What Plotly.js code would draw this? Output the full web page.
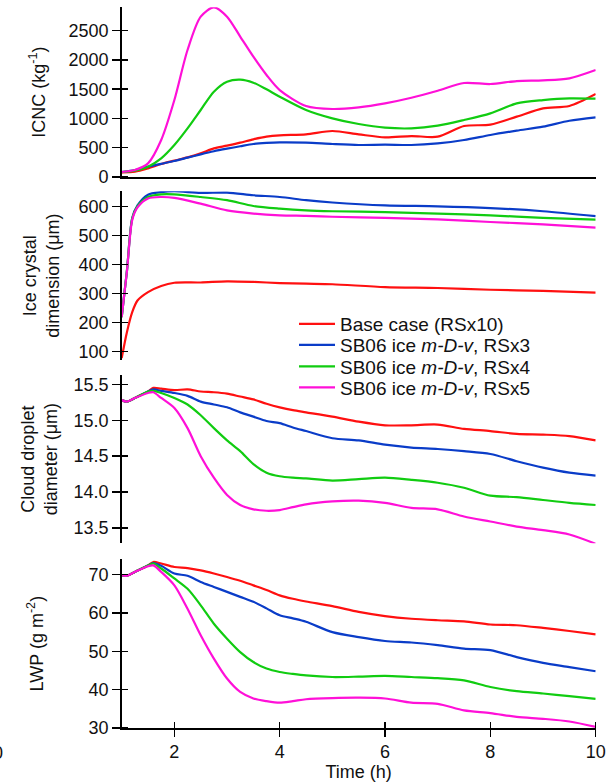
<!DOCTYPE html>
<html>
<head>
<meta charset="utf-8">
<script src="https://cdn.plot.ly/plotly-3.0.1.min.js"></script>
<style>html,body{margin:0;padding:0;background:#fff;}#chart{width:611px;height:783px;}</style>
</head>
<body>
<div id="chart"></div>
<script>
// ---------- data ----------
const seriesNames = ['Base case (RSx10)', 'SB06 ice <i>m-D-v</i>, RSx3', 'SB06 ice <i>m-D-v</i>, RSx4', 'SB06 ice <i>m-D-v</i>, RSx5'];
const seriesColors = ['#ff1010', '#0a3cc8', '#11cc11', '#ff10d8'];

// Panel 1: ICNC (kg^-1)
const timeIcnc = [1,1.25,1.5,1.75,2,2.25,2.5,2.75,3,3.25,3.5,3.75,4,4.5,5,5.5,6,6.5,7,7.5,8,8.5,9,9.5,10];
const icncBase = [80,91,148,222,280,336,404,490,535,587,644,689,712,729,786,729,678,700,689,871,894,1031,1173,1213,1418];
const icncRS3  = [85,120,177,225,273,330,387,440,484,525,564,582,592,587,564,547,552,547,575,632,718,792,860,962,1019];
const icncRS4  = [85,108,177,319,547,831,1145,1458,1629,1665,1612,1498,1372,1145,1002,905,843,831,877,974,1088,1259,1315,1344,1338];
const icncRS5  = [85,120,233,632,1315,2170,2740,2900,2740,2400,2056,1743,1486,1213,1162,1190,1259,1355,1475,1606,1589,1640,1652,1686,1828];

// Panel 2: ice crystal dimension (um)
const timeDim = [1,1.1,1.2,1.3,1.5,1.75,2,2.5,3,3.5,4,4.5,5,6,7,8,9,10];
const dimBase = [78,168,236,276,305,326,337,338,342,340,336,334,332,322,319,313,309,303];
const dimRS3  = [219,380,560,603,640,649,652,646,647,638,632,621,613,603,600,594,583,566];
const dimRS4  = [219,380,558,600,632,641,641,632,621,601,592,586,583,580,575,569,560,554];
const dimRS5  = [219,378,553,596,627,632,629,609,586,575,569,567,564,560,555,546,538,527];

// Panels 3 and 4 share a time grid
const timeCl = [1,1.1,1.25,1.5,1.6,1.75,2,2.25,2.5,2.75,3,3.25,3.5,3.75,4,4.25,4.5,5,5.5,6,6.5,7,7.5,8,8.5,9,9.5,10];
// Panel 3: cloud droplet diameter (um)
const cdBase = [15.28,15.26,15.31,15.40,15.45,15.44,15.42,15.43,15.40,15.39,15.37,15.33,15.29,15.23,15.18,15.14,15.11,15.05,14.98,14.93,14.93,14.94,14.88,14.85,14.81,14.80,14.78,14.72];
const cdRS3  = [15.28,15.26,15.31,15.40,15.43,15.41,15.38,15.34,15.26,15.22,15.18,15.11,15.05,14.99,14.96,14.90,14.85,14.75,14.72,14.66,14.62,14.60,14.57,14.53,14.43,14.34,14.27,14.23];
const cdRS4  = [15.28,15.26,15.31,15.40,15.41,15.38,15.31,15.22,15.07,14.89,14.72,14.57,14.39,14.27,14.22,14.20,14.19,14.16,14.18,14.20,14.17,14.13,14.06,13.95,13.93,13.89,13.85,13.82];
const cdRS5  = [15.28,15.26,15.31,15.38,15.39,15.31,15.17,14.89,14.50,14.20,13.96,13.82,13.76,13.74,13.75,13.79,13.83,13.87,13.88,13.85,13.78,13.76,13.66,13.59,13.52,13.47,13.41,13.28];
// Panel 4: LWP (g m^-2)
const lwpBase = [69.8,69.7,70.7,72.4,73.3,72.9,72.0,71.7,71.1,70.3,69.4,68.4,67.2,66.0,64.6,63.7,63.0,61.8,60.3,59.2,58.5,58.1,57.8,57.0,56.8,56.1,55.3,54.4];
const lwpRS3  = [69.8,69.7,70.7,72.4,73.0,72.3,70.3,69.7,68.1,66.8,65.5,64.2,62.9,61.2,59.4,58.6,57.7,55.0,53.7,52.7,52.3,51.6,50.7,50.3,48.5,47.0,45.9,44.8];
const lwpRS4  = [69.8,69.7,70.7,72.4,72.9,71.6,69.0,66.3,62.0,57.2,53.3,49.8,47.2,45.5,44.6,44.1,43.7,43.3,43.4,43.6,43.3,43.0,42.4,40.7,39.6,39.0,38.3,37.6];
const lwpRS5  = [69.8,69.7,70.7,72.2,72.4,70.7,67.2,61.1,54.2,48.1,42.9,39.4,37.7,37.0,36.6,37.0,37.5,37.8,37.9,37.7,36.6,36.3,34.6,33.9,32.9,32.4,31.7,30.3];

// tick labels
const timeTicks = [2,4,6,8,10];
const icncTicks = [0,500,1000,1500,2000,2500];
const dimTicks  = [100,200,300,400,500,600];
const cdTicks   = [13.5,14.0,14.5,15.0,15.5];
const cdTickText = ['13.5','14.0','14.5','15.0','15.5'];
const lwpTicks  = [30,40,50,60,70];

// ---------- build ----------
const W = 611, H = 783;
const FONT = 'Liberation Sans, Arial, Helvetica, sans-serif';
const panels = [
  {x: timeIcnc, ys: [icncBase, icncRS3, icncRS4, icncRS5], xa: 'x2', ya: 'y'},
  {x: timeDim,  ys: [dimBase, dimRS3, dimRS4, dimRS5],     xa: 'x',  ya: 'y2'},
  {x: timeCl,   ys: [cdBase, cdRS3, cdRS4, cdRS5],         xa: 'x',  ya: 'y3'},
  {x: timeCl,   ys: [lwpBase, lwpRS3, lwpRS4, lwpRS5],     xa: 'x',  ya: 'y4'}
];
const traces = [];
const legendIds = ['legend', 'legend2', 'legend3', 'legend4'];
panels.forEach((p, pi) => {
  p.ys.forEach((y, si) => {
    traces.push({
      type: 'scatter', mode: 'lines', x: p.x, y: y,
      xaxis: p.xa, yaxis: p.ya,
      name: seriesNames[si],
      line: {color: seriesColors[si], width: 2.2, shape: 'spline', smoothing: 0.8},
      showlegend: pi === 1,
      legend: legendIds[si],
      hoverinfo: 'skip'
    });
  });
});

function dom(top, bottom) { return [(H - bottom) / H, (H - top) / H]; }
const xDom = [121.7 / W, 595.7 / W];
const tickFont = {family: FONT, size: 18, color: '#111'};
const titleFont = {family: FONT, size: 18, color: '#111'};

// major ticks outside + minor ticks inside at the same values -> ticks crossing the axis line
function crossTicks(tickvals, outLen, inLen) {
  return {
    ticks: 'outside', ticklen: outLen, tickwidth: 1.5, tickcolor: '#000',
    tickmode: 'array', tickvals: tickvals,
    minor: {ticks: 'inside', ticklen: inLen, tickwidth: 1.5, tickcolor: '#000',
            tickmode: 'array', tickvals: tickvals, showgrid: false}
  };
}

function yAxis(domain, range, tickvals, ticktext, title, standoff, anchor) {
  const a = Object.assign({
    domain: domain, range: range, anchor: anchor,
    showline: true, linecolor: '#000', linewidth: 1.5,
    tickfont: tickFont,
    showgrid: false, zeroline: false, automargin: false,
    title: {text: title, font: titleFont, standoff: standoff}
  }, crossTicks(tickvals, 8, 6));
  if (ticktext) a.ticktext = ticktext;
  return a;
}

const r1 = [0, 2900], r2 = [71.4, 651.6], r3 = [13.287, 15.63], r4 = [30, 74.0];
const legendBase = {
  xanchor: 'left', yanchor: 'middle', x: 294 / W, itemwidth: 36,
  bgcolor: 'rgba(0,0,0,0)', borderwidth: 0,
  font: {family: FONT, size: 19, color: '#111'}
};
const legendRows = [324, 345, 366.5, 387.5];

const layout = {
  width: W, height: H,
  margin: {l: 0, r: 0, t: 0, b: 0},
  paper_bgcolor: '#fff', plot_bgcolor: 'rgba(0,0,0,0)',
  font: {family: FONT, color: '#111'},
  xaxis: Object.assign({
    domain: xDom, range: [1, 10], anchor: 'y4',
    showline: true, linecolor: '#000', linewidth: 1.5,
    tickfont: tickFont,
    showgrid: false, zeroline: false, automargin: false,
    title: {text: 'Time (h)', font: titleFont, standoff: 0}
  }, crossTicks(timeTicks, 7, 6)),
  xaxis2: {
    domain: xDom, range: [1, 10], anchor: 'y', matches: 'x',
    showline: true, linecolor: '#000', linewidth: 1.5,
    ticks: '', showticklabels: false, showgrid: false, zeroline: false, automargin: false
  },
  yaxis:  yAxis(dom(7.3, 177), r1, icncTicks, null, 'ICNC (kg<sup>-1</sup>)', 18, 'x2'),
  yaxis2: yAxis(dom(191.3, 360), r2, dimTicks, null, 'Ice crystal<br>dimension (μm)', 14, 'x'),
  yaxis3: yAxis(dom(375, 543.3), r3, cdTicks, cdTickText, 'Cloud droplet<br>diameter (μm)', 11, 'x'),
  yaxis4: yAxis(dom(559.3, 728), r4, lwpTicks, null, 'LWP (g m<sup>-2</sup>)', 40, 'x'),
  annotations: [
    {text: '0', xref: 'paper', yref: 'paper', x: -2 / W, y: 1 - 753 / H,
     xanchor: 'center', yanchor: 'middle', showarrow: false, font: {family: FONT, size: 18, color: '#111'}}
  ]
};
legendIds.forEach((id, i) => {
  layout[id] = Object.assign({}, legendBase, {y: 1 - legendRows[i] / H});
});

Plotly.newPlot('chart', traces, layout, {displayModeBar: false, staticPlot: true});
</script>
</body>
</html>
